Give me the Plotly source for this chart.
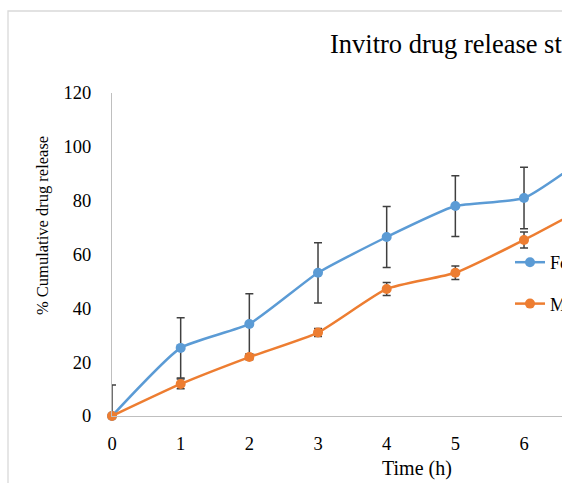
import plotly.graph_objects as go

# ---- data ----
time_h = [0, 1, 2, 3, 4, 5, 6, 7]
formulation_release = [0, 25.3, 34.2, 53.2, 66.5, 78.0, 81.0, 98.0]
formulation_sd_upper = [11.5, 11.2, 11.2, 11.2, 11.3, 11.3, 11.4, 11.3]
formulation_sd_lower = [0, 11.2, 11.2, 11.2, 11.3, 11.3, 11.4, 11.3]
marketed_release = [0, 11.9, 21.9, 31.0, 47.2, 53.2, 65.4, 79.0]
marketed_sd = [0, 1.8, 1.0, 1.5, 2.4, 2.5, 3.0, 3.0]
series_names = ["Formulation", "Marketed"]
y_ticks = [0, 20, 40, 60, 80, 100, 120]
x_ticks = [0, 1, 2, 3, 4, 5, 6, 7, 8]

FONT = "Liberation Serif, Times New Roman, serif"
BLUE = "#5B9BD5"
ORANGE = "#ED7D31"
ERR = "#404040"
W, H = 562, 483

fig = go.Figure()
fig.add_trace(go.Scatter(
    x=time_h, y=formulation_release, name=series_names[0], legendgroup="a",
    mode="lines+markers", line=dict(color=BLUE, width=2.5, shape="spline", smoothing=0.5),
    marker=dict(color=BLUE, size=10),
    error_y=dict(type="data", symmetric=False, array=formulation_sd_upper,
                 arrayminus=formulation_sd_lower, color=ERR, thickness=1.5, width=4),
    cliponaxis=False,
))
fig.add_trace(go.Scatter(
    x=time_h, y=marketed_release, name=series_names[1], legendgroup="b",
    mode="lines+markers", line=dict(color=ORANGE, width=2.5, shape="spline", smoothing=0.5),
    marker=dict(color=ORANGE, size=10),
    error_y=dict(type="data", array=marketed_sd, color=ERR, thickness=1.5, width=4),
    cliponaxis=False,
))

fig.update_layout(
    width=W, height=H,
    margin=dict(l=112, r=0, t=93, b=H - 416, autoexpand=False),
    paper_bgcolor="white", plot_bgcolor="white",
    font=dict(family=FONT, size=18, color="#000000"),
    title=dict(text="Invitro drug release study", font=dict(family=FONT, size=26.5, color="#000000"),
               xref="container", x=330 / W, xanchor="left",
               yref="container", y=1 - 44 / H, yanchor="middle"),
    xaxis=dict(range=[0, 450 / 68.67], tickvals=x_ticks, ticks="", showgrid=False, zeroline=False,
               showline=True, linecolor="#BFBFBF", linewidth=1.3, ticklabelstandoff=11,
               tickfont=dict(family=FONT, size=18.5, color="#000000")),
    yaxis=dict(range=[0, 120], tickvals=y_ticks, ticks="", showgrid=False, zeroline=False,
               showline=True, linecolor="#BFBFBF", linewidth=1.3, ticklabelstandoff=16,
               tickfont=dict(family=FONT, size=18.5, color="#000000")),
    legend=dict(x=(510 - 112) / 450, xanchor="left", y=(416 - 244) / 323, yanchor="top",
                bgcolor="rgba(0,0,0,0)", font=dict(family=FONT, size=18, color="#000000"),
                traceorder="grouped", tracegroupgap=15),
    showlegend=True,
    annotations=[
        dict(text="Time (h)", xref="paper", yref="paper", x=(417 - 112) / 450, y=(416 - 468) / 323,
             xanchor="center", yanchor="middle", showarrow=False,
             font=dict(family=FONT, size=20, color="#000000")),
        dict(text="% Cumulative drug release", xref="paper", yref="paper",
             x=(42 - 112) / 450, y=(416 - 226) / 323, textangle=-90,
             xanchor="center", yanchor="middle", showarrow=False,
             font=dict(family=FONT, size=16.5, color="#000000")),
    ],
    shapes=[
        dict(type="rect", xref="paper", yref="paper",
             x0=(8 - 112) / 450, x1=1.3, y0=-0.5, y1=(416 - 11) / 323,
             line=dict(color="#D9D9D9", width=1.3), fillcolor="rgba(0,0,0,0)", layer="below"),
    ],
)

fig.write_html("out.html", config={"displayModeBar": False},
               post_script="document.body.style.margin='0';")
